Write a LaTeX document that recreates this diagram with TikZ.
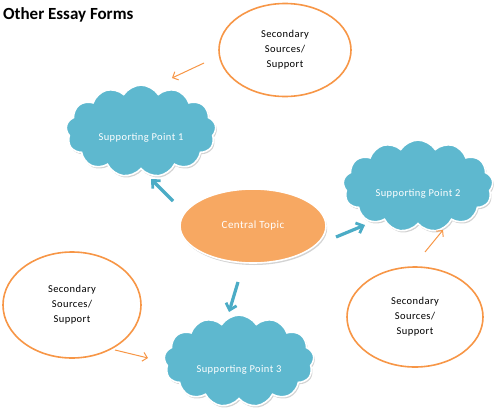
\documentclass[tikz,border=0pt]{standalone}
\usepackage{fontspec}
\setmainfont{Carlito}
\newfontfamily\spaced[LetterSpace=4]{Carlito}
\usetikzlibrary{shapes.symbols,shapes.geometric,shadows,arrows.meta}

\definecolor{cloudblue}{RGB}{94,184,207}
\definecolor{arrowblue}{RGB}{75,172,198}
\definecolor{topicorange}{RGB}{247,168,98}
\definecolor{lineorange}{RGB}{247,150,70}
\tikzstyle{p} = [cloud, cloud puffs=13, cloud puff arc=115, aspect=1.68, draw=white, line width=1.6pt, fill=cloudblue, minimum width=150pt, minimum height=86pt, text=white, font=\spaced\fontsize{10.5}{12}\selectfont, drop shadow={opacity=0.35, shadow xshift=1.2pt, shadow yshift=-1.8pt}]

\begin{document}
\begin{tikzpicture}[x=1pt, y=-1pt,
			point/.style={p},
			topic/.style={ellipse, fill=topicorange, draw=white, line width=1.6pt, minimum width=146pt, minimum height=74pt, text=white, font=\spaced\fontsize{11}{12}\selectfont, drop shadow={opacity=0.35, shadow xshift=1.2pt, shadow yshift=-2pt}},
			source/.style={ellipse, draw=lineorange, line width=1.6pt, fill=white, align=center, font=\spaced\fontsize{10.5}{15}\selectfont},
			link/.style={draw=arrowblue, line width=3.2pt, -{Straight Barb[length=6pt, width=11pt, line width=2.8pt]}, drop shadow={opacity=0.3, shadow xshift=0.8pt, shadow yshift=-1.2pt}},
			hint/.style={draw=lineorange, line width=1pt, -{Straight Barb[length=4.5pt, width=9pt]}}]
			\useasboundingbox (0,0) rectangle (500,407);
			\node (title) [anchor=north west, inner sep=0pt, font=\fontsize{17}{20}\selectfont\bfseries] at (3,7) {Other Essay Forms};
			
			\node (1)[topic] at (253,226) {Central Topic};
			\node (2)[point] at (141,131) {\raisebox{-9pt}[0pt][0pt]{Supporting Point 1}};
			\node (3)[point] at (418,186) {\raisebox{-10pt}[0pt][0pt]{Supporting Point 2}};
			\node (4)[point] at (239,361) {\raisebox{-11pt}[0pt][0pt]{Supporting Point 3}};
			\node (5)[source, minimum width=132pt, minimum height=93pt] at (285,50) {Secondary\\Sources/\\Support};
			\node (6)[source, minimum width=138pt, minimum height=106pt] at (72,305) {Secondary\\Sources/\\Support};
			\node (7)[source, minimum width=136pt, minimum height=100pt] at (415,317) {Secondary\\Sources/\\Support};
			
			% arrows between the shapes
			\coordinate (1a) at (173,201);
			\coordinate (2a) at (151,179);
			\coordinate (1b) at (336,237);
			\coordinate (3a) at (365,225);
			\coordinate (1c) at (238,282);
			\coordinate (4a) at (229,312);
			\coordinate (5a) at (204,63);
			\coordinate (2b) at (172,78);
			\coordinate (7a) at (425,252);
			\coordinate (3b) at (443,230);
			\coordinate (6a) at (115,350);
			\coordinate (4b) at (148,358);
			
			\draw[link] (1a) -- (2a);
			\draw[link] (1b) -- (3a);
			\draw[link] (1c) -- (4a);
			\draw[hint] (5a) -- (2b);
			\draw[hint] (7a) -- (3b);
			\draw[hint] (6a) -- (4b);
		\end{tikzpicture}
\end{document}
